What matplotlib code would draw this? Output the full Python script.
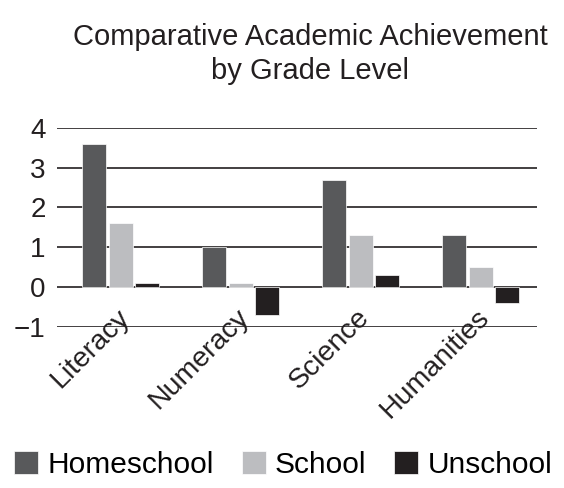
import numpy as np
import matplotlib
matplotlib.use("Agg")
import matplotlib.pyplot as plt
import matplotlib.transforms as mtransforms

plt.rcParams['font.family'] = ['Liberation Sans', 'DejaVu Sans']

categories = ["Literacy", "Numeracy", "Science", "Humanities"]
series = ["Homeschool", "School", "Unschool"]
homeschool = [3.6, 1.0, 2.7, 1.3]
school = [1.6, 0.1, 1.3, 0.5]
unschool = [0.1, -0.7, 0.3, -0.4]
colors = ["#58595b", "#bcbdc0", "#231f20"]
yticks = [-1, 0, 1, 2, 3, 4]

fig = plt.figure(figsize=(5.64, 4.88), dpi=100)
ax = fig.add_axes([0.101, 0.330, 0.851, 0.408])

x = np.arange(len(categories))
w = 0.2
vals = [homeschool, school, unschool]
for i, (name, v, c) in enumerate(zip(series, vals, colors)):
    ax.bar(x + (i - 1) * (w + 0.02), v, width=w, color=c, label=name,
           edgecolor="white", linewidth=0.5, zorder=3)

ax.set_xlim(-0.53, len(categories) - 0.53)
ax.set_ylim(-1, 4)
ax.set_yticks(yticks)
ax.set_yticklabels(["\u2212" + str(-t) if t < 0 else str(t) for t in yticks],
                   fontsize=20)
for t in yticks:
    ax.axhline(t, color="#231f20", linewidth=1.2, zorder=1)
ax.set_xticks(x)
ax.set_xticklabels(categories, rotation=45, ha="right", rotation_mode="anchor",
                   va="center", fontsize=20.5)
ax.tick_params(length=0, pad=0, colors="#231f20")
ax.tick_params(axis="y", pad=8)
off = mtransforms.ScaledTranslation(5 / 100, 14 / 100, fig.dpi_scale_trans)
for lab in ax.get_xticklabels():
    lab.set_transform(lab.get_transform() + off)
for s in ax.spines.values():
    s.set_visible(False)

fig.suptitle("Comparative Academic Achievement\nby Grade Level", x=0.55, y=0.953,
             fontsize=21, color="#231f20", linespacing=1.28)

fig.legend(loc="center", bbox_to_anchor=(0.502, 0.047), ncol=3, frameon=False,
           fontsize=21.5, handlelength=0.8, handleheight=0.8,
           handletextpad=0.3, columnspacing=0.95, borderaxespad=0)

fig.savefig("out.png", dpi=100)
